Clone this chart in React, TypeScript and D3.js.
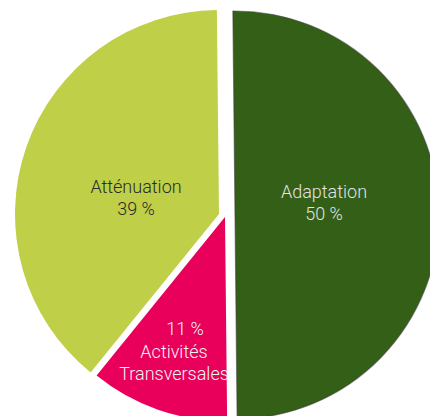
import React from "react";
import * as d3 from "d3";

const categories = ["Adaptation", "Activités Transversales", "Atténuation"];
const values = [50, 11, 39];
const labelLines = [["Adaptation", "50 %"], ["11 %", "Activités", "Transversales"], ["Atténuation", "39 %"]];

const colors = ["#335f17", "#e8005a", "#c0cf48"];
const textColors = ["#e2e2e2", "#f4f4f4", "#2a2a2a"];
const centers: [number, number][] = [[235, 215], [225, 217], [219, 214]];
const labelPos: [number, number][] = [[324, 198], [174, 335], [136, 193]];
const labelLineHeights = [22, 22.5, 22];

export default function App() {
  const W = 430, H = 416, R = 204;
  const rot = (-0.6 * Math.PI) / 180;
  const pie = d3.pie<number>().sort(null).value(d => d).startAngle(rot).endAngle(2 * Math.PI + rot);
  const arcs = pie(values);
  const arc = d3.arc<d3.PieArcDatum<number>>().innerRadius(0).outerRadius(R);
  return (
    <svg width={W} height={H} style={{ position: "absolute", left: 0, top: 0, overflow: "hidden" }}
      fontFamily="Roboto, sans-serif">
      {arcs.map((a, i) => (
        <path key={categories[i]} d={arc(a) || ""} transform={`translate(${centers[i][0]},${centers[i][1]})`}
          fill={colors[i]} stroke={i === 0 ? "rgba(60,60,60,0.55)" : "none"} strokeWidth={i === 0 ? 1.2 : 0} />
      ))}
      {arcs.map((a, i) => (
        <text key={"t" + i} x={labelPos[i][0]} y={labelPos[i][1]} fill={textColors[i]}
          fontSize={18} fontWeight={300} textAnchor="middle">
          {labelLines[i].map((l, j) => (
            <tspan key={j} x={labelPos[i][0] + (i === 1 && j === 0 ? 11 : 0)} dy={j === 0 ? 0 : labelLineHeights[i]}>{l}</tspan>
          ))}
        </text>
      ))}
    </svg>
  );
}
